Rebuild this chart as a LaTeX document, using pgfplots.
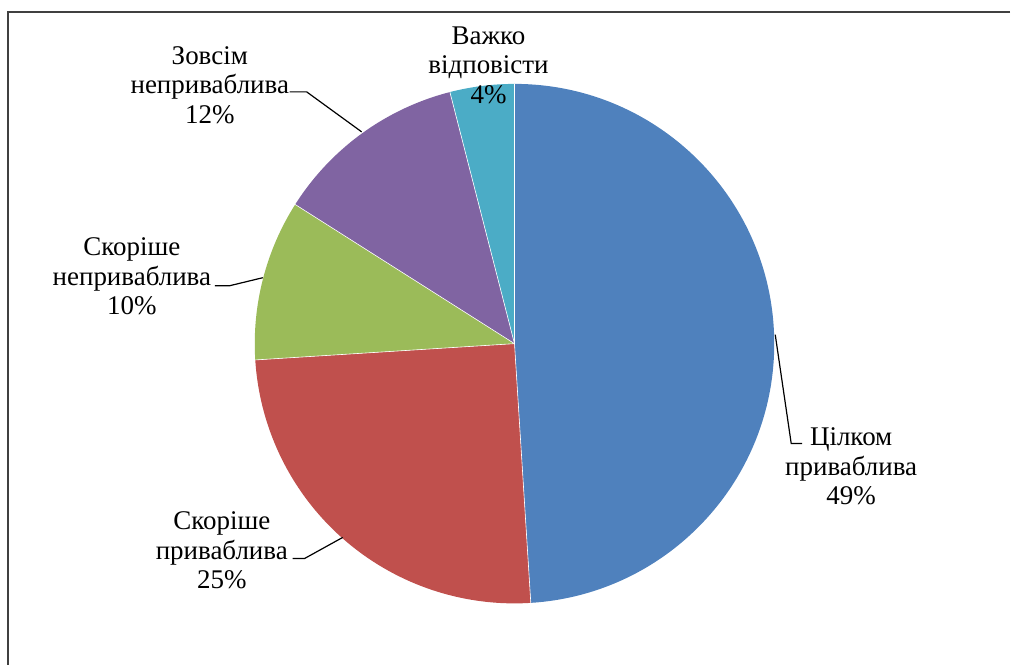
\documentclass[border=0pt]{standalone}
\usepackage{fontspec}
\setmainfont{Liberation Serif}
\usepackage{pgfplots}
\pgfplotsset{compat=1.18}
\definecolor{pieblue}{HTML}{4F81BD}
\definecolor{piered}{HTML}{C0504D}
\definecolor{piegreen}{HTML}{9BBB59}
\definecolor{piepurple}{HTML}{8064A2}
\definecolor{pieteal}{HTML}{4BACC6}
\tikzset{lbl/.style={align=center, font=\fontsize{13.5}{14.75}\selectfont, inner sep=0pt}}
% shares in percent
\def\vA{49}\def\vB{25}\def\vC{10}\def\vD{12}\def\vE{4}
\pgfmathsetmacro\aA{90}
\pgfmathsetmacro\aB{\aA-\vA*3.6}
\pgfmathsetmacro\aC{\aB-\vB*3.6}
\pgfmathsetmacro\aD{\aC-\vC*3.6}
\pgfmathsetmacro\aE{\aD-\vD*3.6}
\pgfmathsetmacro\aF{\aE-\vE*3.6}
\begin{document}
\begin{tikzpicture}
\begin{axis}[
  width=505.5pt, height=333pt, scale only axis,
  xmin=0, xmax=1011, ymin=0, ymax=666,
  hide axis, clip=false,
]
\path (axis cs:0,0) rectangle (axis cs:1011,666);
\fill[pieblue]   (axis cs:515,322) -- ++(\aA:130pt) arc[start angle=\aA, end angle=\aB, radius=130pt] -- cycle;
\fill[piered]    (axis cs:515,322) -- ++(\aB:130pt) arc[start angle=\aB, end angle=\aC, radius=130pt] -- cycle;
\fill[piegreen]  (axis cs:515,322) -- ++(\aC:130pt) arc[start angle=\aC, end angle=\aD, radius=130pt] -- cycle;
\fill[piepurple] (axis cs:515,322) -- ++(\aD:130pt) arc[start angle=\aD, end angle=\aE, radius=130pt] -- cycle;
\fill[pieteal]   (axis cs:515,322) -- ++(\aE:130pt) arc[start angle=\aE, end angle=\aF, radius=130pt] -- cycle;
\draw[white, line width=0.3pt] (axis cs:515,322) -- ++(\aA:130pt);
\draw[white, line width=0.3pt] (axis cs:515,322) -- ++(\aB:130pt);
\draw[white, line width=0.3pt] (axis cs:515,322) -- ++(\aC:130pt);
\draw[white, line width=0.3pt] (axis cs:515,322) -- ++(\aD:130pt);
\draw[white, line width=0.3pt] (axis cs:515,322) -- ++(\aE:130pt);
% frame
\draw[black!75, line width=1pt] (axis cs:1011,654) -- (axis cs:8,654) -- (axis cs:8,0);
% leader lines
\draw[black, line width=0.6pt] (axis cs:776,331) -- (axis cs:792,222) -- (axis cs:803,222);
\draw[black, line width=0.6pt] (axis cs:343,128) -- (axis cs:305,107) -- (axis cs:293,107);
\draw[black, line width=0.6pt] (axis cs:263,388) -- (axis cs:230,380) -- (axis cs:215,380);
\draw[black, line width=0.6pt] (axis cs:362,534) -- (axis cs:307,574) -- (axis cs:290,574);
% labels
\node[lbl] at (axis cs:852,199) {Цілком\\приваблива\\49\%};
\node[lbl] at (axis cs:222,115) {Скоріше\\приваблива\\25\%};
\node[lbl] at (axis cs:132,389) {Скоріше\\неприваблива\\10\%};
\node[lbl] at (axis cs:210,581) {Зовсім\\неприваблива\\12\%};
\node[lbl] at (axis cs:489,601) {Важко\\відповісти\\4\%};
\end{axis}
\end{tikzpicture}
\end{document}
